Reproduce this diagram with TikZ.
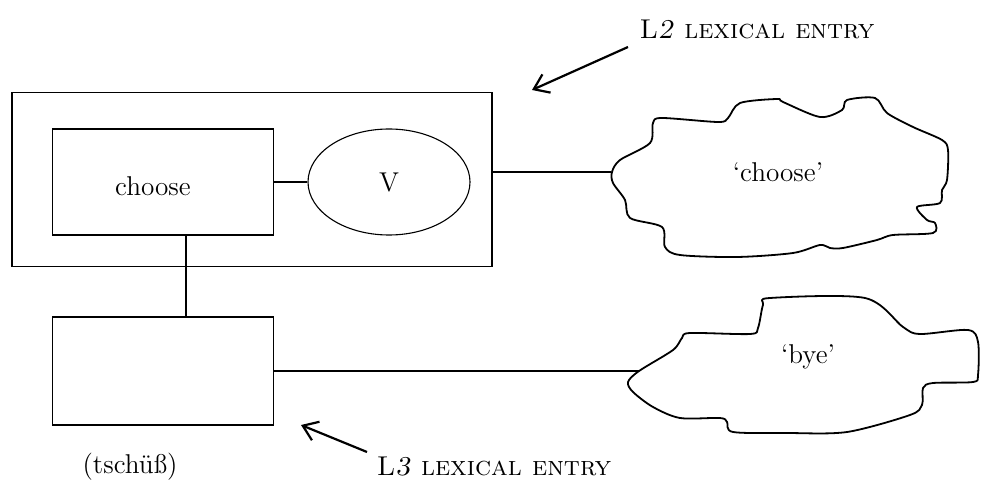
\documentclass[tikz,border=0pt]{standalone}
\usepackage{fontspec}
\usetikzlibrary{arrows.meta, shapes.geometric, positioning}

\begin{document}
\begin{tikzpicture}[x=0.5pt,y=-0.5pt,font=\fontsize{13.6}{16}\selectfont]
\tikzstyle{entry}=[draw=black,line width=0.55pt,inner sep=0pt]
\tikzstyle{concept}=[line width=0.9pt,line join=round]
\tikzstyle{link}=[-,line width=0.6pt]
\tikzstyle{meaninglink}=[-,line width=0.9pt]
\tikzstyle{pointer}=[-{Straight Barb[length=7pt,width=10pt]},line width=1.1pt]

\useasboundingbox (0,0) rectangle (983,480);

\node[entry, minimum width=240pt, minimum height=87pt] (lexentry) at (252,179.5) {};
\node[entry, minimum width=110.5pt, minimum height=53pt] (form) at (163,182) {};
\node (formtext) at (153,186) {choose};
\node[entry, ellipse, minimum width=81pt, minimum height=53pt] (cat) at (389,182) {V};
\node[entry, minimum width=110.5pt, minimum height=54pt] (lthree) at (163,371) {};
\node (tschuess) at (130,467) {(tschüß)};

\draw[concept] plot[smooth cycle, tension=0.5] coordinates {
  (612,172) (620,160) (650,143) (653,123) (662,118) (718,122) (728,118)
  (740,103) (777,99) (783,102) (820,117) (842,110) (847,100) (875,98)
  (887,113) (913,127) (942,140) (948,150) (947,180) (942,190) (940,203)
  (917,207) (927,220) (935,223) (933,233) (893,235) (877,240) (843,248)
  (830,248) (820,245) (793,253) (737,257) (680,255) (665,247) (662,227)
  (630,218) (625,200) (613,183)};
\node (choosemeaning) at (778,172) {`choose'};

\draw[concept] plot[smooth cycle, tension=0.5] coordinates {
  (639,371) (628,382) (633,392) (653,407) (680,418) (720,418) (727,422)
  (733,432) (787,433) (847,432) (910,415) (922,405) (923,388) (933,383)
  (973,382) (978,375) (978,342) (968,330) (920,334) (903,327) (865,298)
  (770,298) (763,305) (758,328) (750,334) (690,333) (682,338) (673,350)};
\node (byemeaning) at (808,357) {`bye'};

\coordinate (chooseend) at (611,172);
\coordinate (byeend) at (639,371);
\path
  (form) edge [link] (cat)
  ([xshift=11.5pt]form.south) edge [link] ([xshift=11.5pt]lthree.north)
  (lexentry.east |- chooseend) edge [meaninglink] (chooseend)
  (lthree.east) edge [meaninglink] (byeend);

\node (ltwolabel) at (757,29) {\textsc{L\textit{2} lexical entry}};
\node (lthreelabel) at (494,467) {\textsc{L\textit{3} lexical entry}};
\coordinate (ltwotail) at (628,47);
\coordinate (ltwotip) at (532,90);
\coordinate (lthreetail) at (367,452);
\coordinate (lthreetip) at (301,425);
\draw[pointer] (ltwotail) -- (ltwotip);
\draw[pointer] (lthreetail) -- (lthreetip);
\end{tikzpicture}
\end{document}
